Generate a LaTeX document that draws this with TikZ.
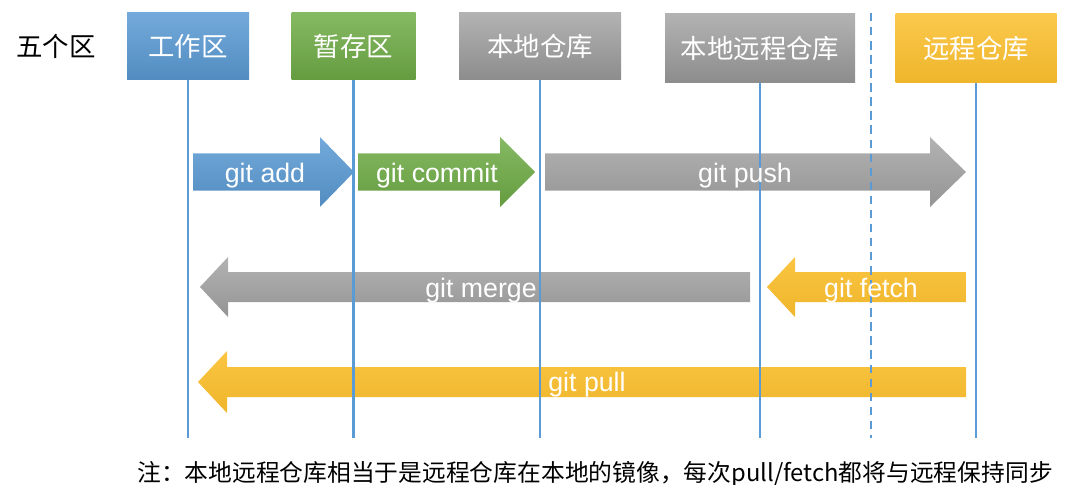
\documentclass[tikz,border=0pt]{standalone}
\usepackage{fontspec}
\setmainfont{Liberation Sans}
\newfontfamily\cjk{Noto Sans CJK SC}
\usepackage{xcolor}
\definecolor{laneblue}{HTML}{5B9BD5}
\definecolor{wkblue}{HTML}{5B9BD5}
\definecolor{stgreen}{HTML}{70AD47}
\definecolor{repogray}{HTML}{A5A5A5}
\definecolor{remyellow}{HTML}{FBBF2D}
\newcommand{\pxu}{0.025cm}

\begin{document}
\begin{tikzpicture}[x=\pxu, y=-\pxu,
    zone/.style={inner sep=0pt, text=white, font=\cjk\fontsize{18.8}{20}\selectfont},
    lane/.style={laneblue, line width=1.5pt},
    cmd/.style={inner sep=0pt, text=white, font=\fontsize{19}{21}\selectfont}]
    \useasboundingbox (0,0) rectangle (1069,485);

    % 五个区
    \node[font=\cjk\fontsize{18.8}{20}\selectfont] (title) at (56,46) {五个区};
    \node[zone, minimum width=122*\pxu, minimum height=67*\pxu, top color=wkblue!85!white, bottom color=wkblue!90!black] (wk) at (188,46.5) {工作区};
    \node[zone, minimum width=124*\pxu, minimum height=67*\pxu, top color=stgreen!85!white, bottom color=stgreen!90!black] (stage) at (353.5,46.5) {暂存区};
    \node[zone, minimum width=162*\pxu, minimum height=67*\pxu, top color=repogray!85!white, bottom color=repogray!85!black] (local) at (540,46.5) {本地仓库};
    \node[zone, minimum width=190*\pxu, minimum height=69*\pxu, top color=repogray!85!white, bottom color=repogray!85!black] (mirror) at (760,48.5) {本地远程仓库};
    \node[zone, minimum width=161*\pxu, minimum height=69*\pxu, top color=remyellow!85!white, bottom color=remyellow!95!black] (remote) at (976,48.5) {远程仓库};

    % 第一行: add / commit / push
    \shade[top color=wkblue!85!white, bottom color=wkblue!90!black] (193,153.5) -- (320,153.5) -- (320,137) -- (354,172) -- (320,207) -- (320,190.5) -- (193,190.5) -- cycle;
    \shade[top color=stgreen!85!white, bottom color=stgreen!90!black] (358,153.5) -- (500,153.5) -- (500,137) -- (535,172) -- (500,207) -- (500,190.5) -- (358,190.5) -- cycle;
    \shade[top color=repogray!85!white, bottom color=repogray!90!black] (545,153.5) -- (930,153.5) -- (930,137) -- (966,172) -- (930,207) -- (930,190.5) -- (545,190.5) -- cycle;
    % 第二行: merge / fetch
    \shade[top color=repogray!85!white, bottom color=repogray!90!black] (750,272) -- (228,272) -- (228,257) -- (200,287) -- (228,317) -- (228,302) -- (750,302) -- cycle;
    \shade[top color=remyellow!90!white, bottom color=remyellow!95!black] (966,272) -- (795,272) -- (795,257) -- (767,287) -- (795,317) -- (795,302) -- (966,302) -- cycle;
    % 第三行: pull
    \shade[top color=remyellow!90!white, bottom color=remyellow!95!black] (966,367) -- (227,367) -- (227,351) -- (198,382) -- (227,413) -- (227,397) -- (966,397) -- cycle;

    % 竖线
    \coordinate (bottom) at (0,438);
    \draw[lane] (wk.south) -- (wk.south |- bottom);
    \draw[lane] (stage.south) -- (stage.south |- bottom);
    \draw[lane] (local.south) -- (local.south |- bottom);
    \draw[lane] (mirror.south) -- (mirror.south |- bottom);
    \draw[lane] (remote.south) -- (remote.south |- bottom);
    \coordinate (sep top) at (871,13);
    \coordinate (sep bot) at (871,438);
    \draw[laneblue, line width=1pt, dash pattern=on 6pt off 4pt] (sep top) -- (sep bot);

    \node[cmd] (add) at (265,175.5) {git add};
    \node[cmd] (commit) at (437,175.5) {git commit};
    \node[cmd] (push) at (745,175.5) {git push};
    \node[cmd] (merge) at (481,290.5) {git merge};
    \node[cmd] (fetch) at (871,290.5) {git fetch};
    \node[cmd] (pull) at (587,384.5) {git pull};

    \node[anchor=west, inner sep=0pt, font=\cjk\fontsize{16.9}{18}\selectfont] (note) at (137,474) {注：本地远程仓库相当于是远程仓库在本地的镜像，每次pull/fetch都将与远程保持同步};
\end{tikzpicture}
\end{document}
